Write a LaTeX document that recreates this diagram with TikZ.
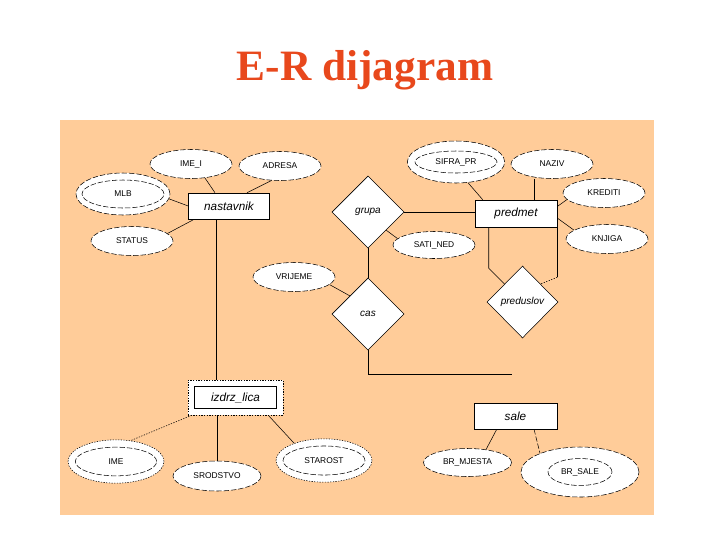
\documentclass[tikz,border=0pt]{standalone}
\usepackage{fontspec}
\setmainfont{Liberation Serif}
\setsansfont{Liberation Sans}
\usetikzlibrary{shapes}
\definecolor{panel}{RGB}{255,204,153}
\definecolor{naslov}{RGB}{232,72,28}

\begin{document}
\begin{tikzpicture}[x=0.75pt,y=-0.75pt]
        \tikzstyle{every node}+=[inner sep=0pt]
        \tikzstyle{crtice}=[dash pattern=on 4pt off 1.5pt]
        \tikzstyle{tocke}=[dash pattern=on 1pt off 1pt]
        \tikzstyle{atr}=[ellipse, draw, crtice, fill=white, minimum width=61.5pt, minimum height=21.75pt, font=\sffamily\fontsize{6.3}{7}\selectfont]
        \tikzstyle{slabi}=[ellipse, draw, tocke, fill=white, minimum width=72pt, minimum height=32.5pt, font=\sffamily\fontsize{6.3}{7}\selectfont]
        \tikzstyle{entitet}=[rectangle, draw, fill=white, minimum width=60.75pt, minimum height=19.5pt, font=\sffamily\itshape\fontsize{8.8}{10}\selectfont]
        \tikzstyle{veza}=[diamond, draw, fill=white, minimum width=54pt, minimum height=54pt, font=\sffamily\itshape\fontsize{7.5}{9}\selectfont]

        \useasboundingbox (0,0) rectangle (720,540);
        \fill [panel] (60,120) rectangle (654,515);
        \node [anchor=base, font=\bfseries\fontsize{32.5}{36}\selectfont, text=naslov] (naslov) at (365,80) {E-R dijagram};

        % nastavnik
        \node [atr] (imei) at (191,164) {IME\_I};
        \node [atr] (adresa) at (280,166) {ADRESA};
        \node [atr, minimum width=70.5pt, minimum height=31.5pt] (mlb) at (123,194) {MLB};
        \draw [crtice] (mlb.center) ellipse [x radius=30.75pt, y radius=10.5pt];
        \node [atr] (status) at (132,241) {STATUS};
        \node [entitet] (nast) at (229,206) {nastavnik};

        % predmet
        \node [veza] (grupa) at (368,212) {grupa};
        \node [entitet, minimum width=61.5pt, minimum height=20.25pt] (predmet) at (516,213.5) {predmet};
        \node [atr, minimum width=73pt, minimum height=31.5pt] (sifra) at (456,162) {SIFRA\_PR};
        \draw [crtice] (sifra.center) ellipse [x radius=30.75pt, y radius=8.25pt];
        \node [atr] (naziv) at (552,164) {NAZIV};
        \node [atr] (kredit) at (604,193) {KREDITI};
        \node [atr] (knjiga) at (607,239) {KNJIGA};
        \node [atr, minimum height=20.25pt] (satined) at (434,245) {SATI\_NED};
        \node [atr] (vrijeme) at (294,277) {VRIJEME};
        \node [veza] (cas) at (368,314) {cas};
        \node [veza, minimum width=53.25pt] (predusl) at (522.5,302) {preduslov};

        % izdrz_lica
        \node [rectangle, draw, tocke, fill=white, minimum width=71.25pt, minimum height=26.25pt, font=\sffamily\itshape\fontsize{8.8}{10}\selectfont] (izdrz) at (235.5,397.5) {izdrz\_lica};
        \draw (izdrz.center) ++(-41,-11) rectangle ++(82,22);
        \node [slabi] (ime) at (116,461.5) {IME};
        \draw [crtice] (ime.center) ellipse [x radius=30.5pt, y radius=10.75pt];
        \node [atr, minimum width=66pt, minimum height=22.5pt] (srod) at (217,476) {SRODSTVO};
        \node [slabi] (starost) at (324,460.5) {STAROST};
        \draw [crtice] (starost.center) ellipse [x radius=30.75pt, y radius=10.9pt];

        % sale
        \node [entitet, minimum width=62.25pt] (sale) at (515.5,416) {sale};
        \node [atr, minimum width=66pt, minimum height=21pt] (brmj) at (467.5,462.5) {BR\_MJESTA};
        \node [atr, minimum width=88.5pt, minimum height=37.5pt] (brsale) at (580,472) {BR\_SALE};
        \draw [crtice] (brsale.center) ellipse [x radius=24pt, y radius=10.1pt];

        \draw (imei.-45) -- ([xshift=-10.5pt]nast.north);
        \draw (adresa.-120) -- ([xshift=13.5pt]nast.north);
        \draw (mlb.-6) -- (nast.west);
        \draw (status.12) -- ([xshift=4.5pt]nast.south west);
        \draw ([xshift=-9.75pt]nast.south) -- ([xshift=-9.75pt]nast.south |- izdrz.north);
        \draw (grupa.east) -- (grupa.east -| predmet.west);
        \draw (grupa.-45) -- (satined.170);
        \draw (grupa.south) -- (cas.north);
        \draw (vrijeme.-12) -- (cas.135);
        \coordinate (kraj) at (512,374);
        \draw (cas.south) |- (kraj);
        \draw ([xshift=10.5pt]predmet.south west) -- ++(0,41) -- (predusl.135);
        \draw (predmet.south east) -- ++(0,50) coordinate (lom);
        \draw [tocke] (lom) -- (predusl.45);
        \draw (sifra.-60) -- ([xshift=6pt]predmet.north west);
        \draw ([xshift=13.5pt]predmet.north) -- ([xshift=13.5pt]predmet.north |- naziv.south);
        \draw ([yshift=5.25pt]predmet.east) -- (kredit.-170);
        \draw ([yshift=-3.4pt]predmet.east) -- (knjiga.165);
        \draw [tocke] ([xshift=3pt]izdrz.south west) -- (ime.55);
        \draw (srod.north |- izdrz.south) -- (srod.north);
        \draw ([xshift=-11.25pt]izdrz.south east) -- (starost.150);
        \draw ([xshift=17.25pt]sale.south west) -- (brmj.35);
        \draw [crtice] ([xshift=13.9pt]sale.south) -- (brsale.155);
        \end{tikzpicture}
\end{document}
